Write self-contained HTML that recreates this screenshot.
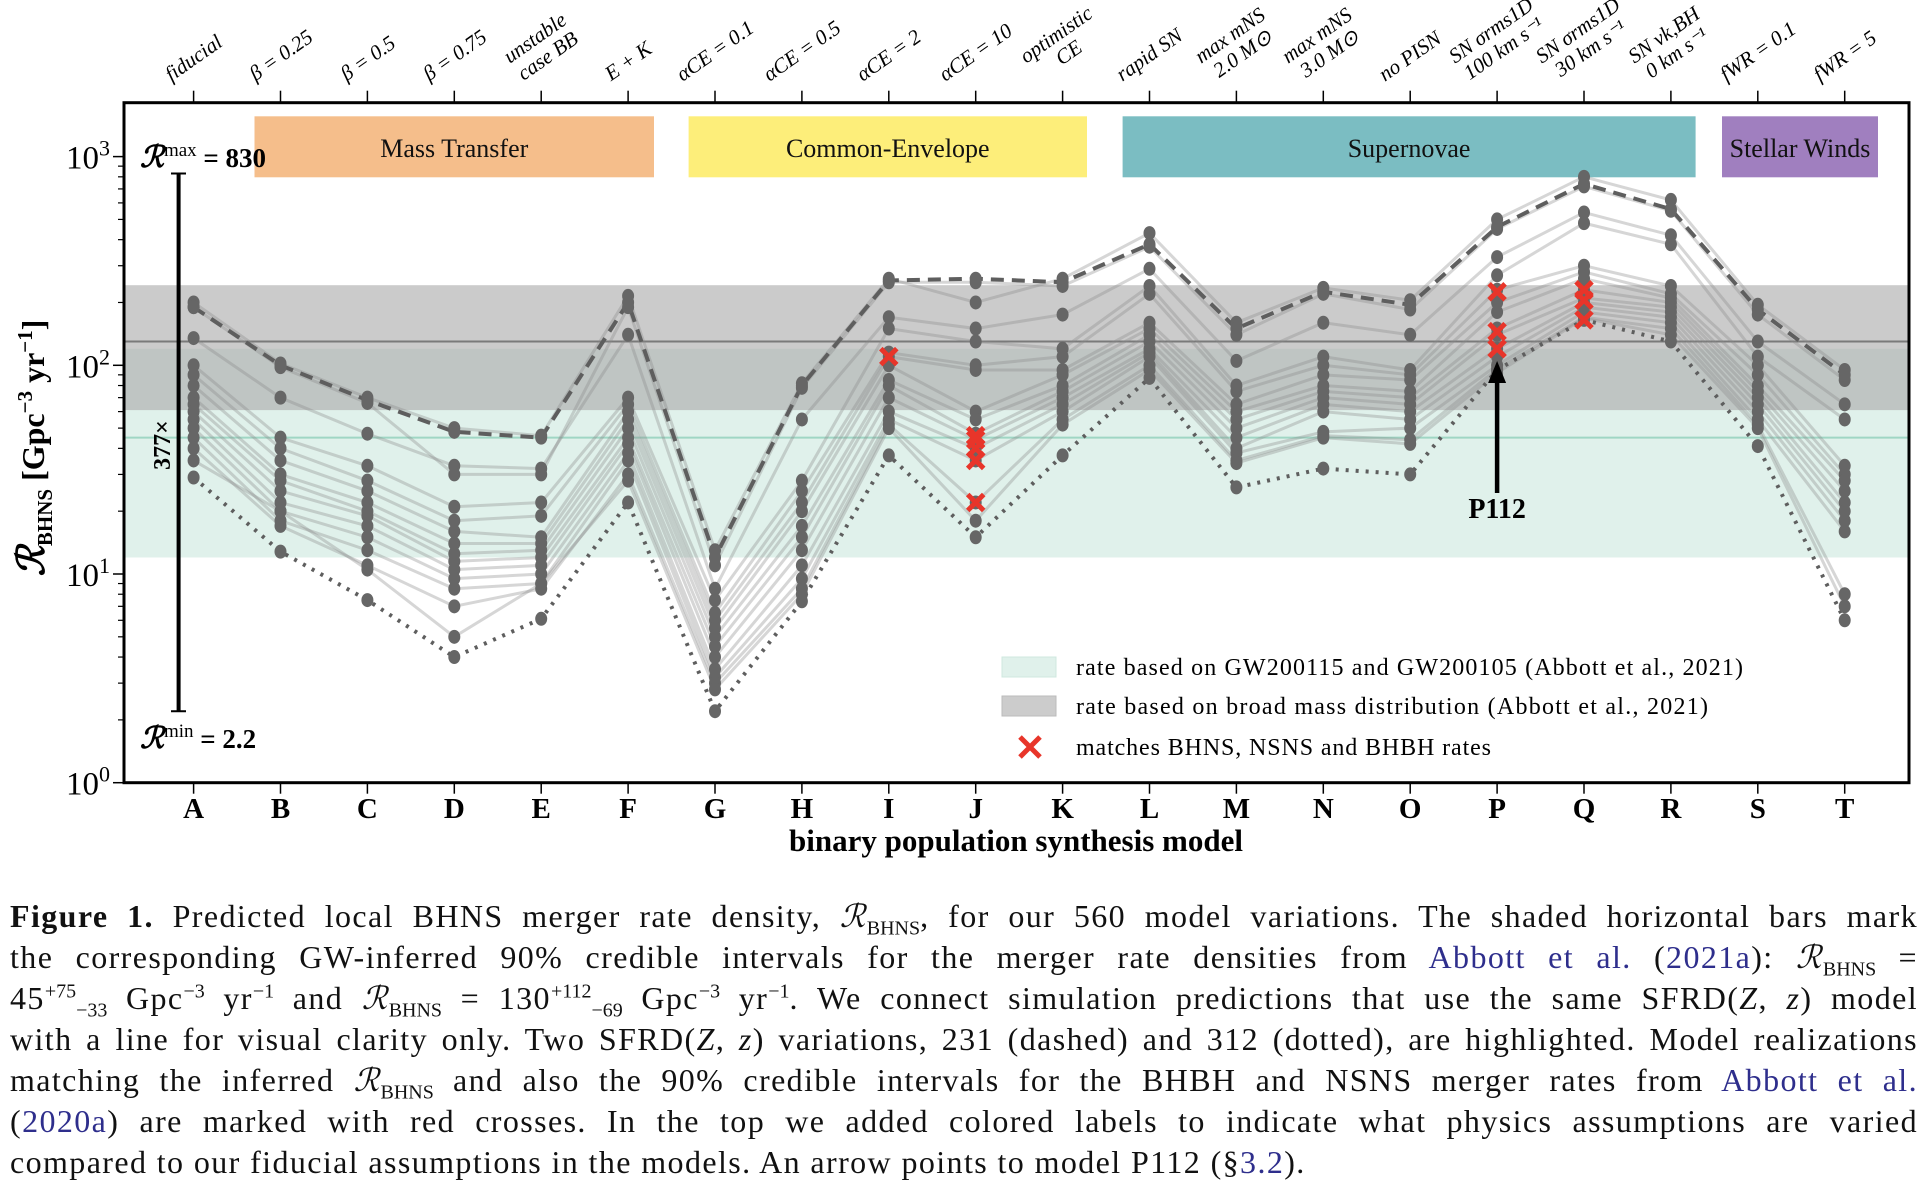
<!DOCTYPE html>
<html><head><meta charset="utf-8">
<style>
html,body{margin:0;padding:0;background:#fff;}
body{width:1928px;height:1198px;position:relative;overflow:hidden;font-family:"Liberation Serif",serif;}
#cap{position:absolute;left:10px;top:896px;width:1908px;font-size:32px;letter-spacing:1.4px;line-height:41px;color:#111;}
#cap div{text-align:justify;text-align-last:justify;white-space:nowrap;height:41px;}
#cap div.last{text-align-last:left;}
.bl{color:#2e2e8c;}
sub,sup{font-size:20px;line-height:0;letter-spacing:0;}
</style></head>
<body>
<svg id="chart" width="1928" height="890" style="position:absolute;left:0;top:0" font-family="Liberation Serif, serif"></svg>
<div id="cap">
<div><b>Figure 1.</b> Predicted local BHNS merger rate density, <i>ℛ</i><sub>BHNS</sub>, for our 560 model variations. The shaded horizontal bars mark</div>
<div>the corresponding GW-inferred 90% credible intervals for the merger rate densities from <span class="bl">Abbott et al.</span> (<span class="bl">2021a</span>): <i>ℛ</i><sub>BHNS</sub> =</div>
<div>45<sup>+75</sup><sub>−33</sub> Gpc<sup>−3</sup> yr<sup>−1</sup> and <i>ℛ</i><sub>BHNS</sub> = 130<sup>+112</sup><sub>−69</sub> Gpc<sup>−3</sup> yr<sup>−1</sup>. We connect simulation predictions that use the same SFRD(<i>Z</i>, <i>z</i>) model</div>
<div>with a line for visual clarity only. Two SFRD(<i>Z</i>, <i>z</i>) variations, 231 (dashed) and 312 (dotted), are highlighted. Model realizations</div>
<div>matching the inferred <i>ℛ</i><sub>BHNS</sub> and also the 90% credible intervals for the BHBH and NSNS merger rates from <span class="bl">Abbott et al.</span></div>
<div>(<span class="bl">2020a</span>) are marked with red crosses. In the top we added colored labels to indicate what physics assumptions are varied</div>
<div class="last">compared to our fiducial assumptions in the models. An arrow points to model P112 (§<span class="bl">3.2</span>).</div>
</div>
<script>
const categories = ["A","B","C","D","E","F","G","H","I","J","K","L","M","N","O","P","Q","R","S","T"];
const topLabels = [["fiducial"],["β = 0.25"],["β = 0.5"],["β = 0.75"],["unstable","case BB"],["E + K"],["αCE = 0.1"],["αCE = 0.5"],["αCE = 2"],["αCE = 10"],["optimistic","CE"],["rapid SN"],["max mNS","2.0 M⊙"],["max mNS","3.0 M⊙"],["no PISN"],["SN σrms1D","100 km s⁻¹"],["SN σrms1D","30 km s⁻¹"],["SN vk,BH","0 km s⁻¹"],["fWR = 0.1"],["fWR = 5"]];
const seriesDashed = [190,100,68,48,45,200,12,80,255,260,250,380,150,225,195,460,740,560,185,90];
const seriesDotted = [29,12.8,7.5,4,6.1,22,2.2,7.4,37,15,37,87,26,32,30,95,165,130,41,6];
const grayS1 = [200,102,70,50,46,215,13,82,260,200,260,430,160,235,205,500,800,620,195,95];
const grayS2 = [135,70,47,33,32,140,8.5,55,170,150,175,290,105,160,140,330,540,420,130,65];
const grayS3 = [100,45,33,21,22,70,7.5,28,150,130,120,240,80,110,95,270,480,380,110,55];
const grayS4 = [90,40,28,18,19,65,6.5,25,115,100,110,220,75,100,90,230,300,240,100,33];
const grayS5 = [80,35,25,16,15,60,6,22,110,95,95,160,65,90,85,200,280,220,90,30];
const grayS6 = [70,30,22,14,14,55,5.5,20,100,60,90,150,60,80,75,180,260,210,80,28];
const grayS7 = [65,28,20,12.5,13,50,5,17,85,55,80,140,55,75,70,150,230,200,75,25];
const grayS8 = [60,25,19,11.5,12,45,4.5,15,80,47,75,130,50,70,65,140,210,190,70,22];
const grayS9 = [55,22,17,10.5,11,42,4,13,70,44,70,120,45,65,60,120,200,180,65,20];
const grayS10 = [50,20,15,9.5,10,38,3.5,11,60,40,65,115,40,60,55,110,190,170,60,18];
const grayS11 = [45,18,13,8.5,9,35,3.2,9.5,55,35,60,110,38,48,50,100,180,160,55,16];
const grayS12 = [40,17,11,7,8.5,30,3,8.5,52,22,55,100,35,46,44,96,170,150,52,8];
const grayS13 = [35,20,10.5,5,9,28,2.8,8,50,18,52,95,34,45,42,92,168,140,50,7];
const grayS14 = [190,98,66,30,30,190,11,78,250,250,240,370,140,220,185,450,720,550,175,85];
const graySeries = [grayS1,grayS2,grayS3,grayS4,grayS5,grayS6,grayS7,grayS8,grayS9,grayS10,grayS11,grayS12,grayS13,grayS14];
const crossCats = ["I","J","J","J","J","J","P","P","P","Q","Q","Q"];
const crossVals = [110,46,44,40,35,22,225,145,120,230,205,165];
const bandTeal = [12,120]; const bandTealCenter = 45;
const bandGray = [61,242]; const bandGrayCenter = 130;
const groupNames = ["Mass Transfer","Common-Envelope","Supernovae","Stellar Winds"];
const rMax = 830, rMin = 2.2;
const yTicks = [0,1,2,3];

const NS="http://www.w3.org/2000/svg";
const svg=document.getElementById('chart');
const L=124,R=1909,T=102.7,B=782.7, x0=193.6, dx=86.9, dec=208.7;
const xs=c=>x0+categories.indexOf(c)*dx;
const xi=i=>x0+i*dx;
const ys=v=>B-dec*Math.log10(v);
function mk(tag,attrs,parent){const e=document.createElementNS(NS,tag);for(const k in attrs)e.setAttribute(k,attrs[k]);(parent||svg).appendChild(e);return e;}

let g=mk('g',{});


let r1=mk('rect',{x:L,y:ys(bandTeal[1]),width:R-L,height:ys(bandTeal[0])-ys(bandTeal[1]),fill:'#e0f1eb'},g);


let r2=mk('rect',{x:L,y:ys(bandGray[1]),width:R-L,height:ys(bandGray[0])-ys(bandGray[1]),fill:'#a8a8a8','fill-opacity':0.6},g);


mk('line',{x1:L,x2:R,y1:ys(bandTealCenter),y2:ys(bandTealCenter),stroke:'#9fd6c4','stroke-width':2},g);
mk('line',{x1:L,x2:R,y1:ys(bandGrayCenter),y2:ys(bandGrayCenter),stroke:'#7a7a7a','stroke-width':2},g);

const gcol=['#f5be8b','#fdee7a','#7bbdc2','#a07fbf'];
const gx0=[254.5,688.6,1122.6,1722], gx1=[654,1087,1695.6,1878];
groupNames.forEach((n,i)=>{
  const a=mk('g',{});
  
  
  mk('rect',{x:gx0[i],y:116.3,width:gx1[i]-gx0[i],height:61,fill:gcol[i]},a);
  const t=mk('text',{x:(gx0[i]+gx1[i])/2,y:157,'text-anchor':'middle','font-size':26,fill:'#111'},a);
  t.textContent=n;
});

const pts=s=>s.map((v,i)=>xi(i)+','+ys(v)).join(' ');
graySeries.forEach((s,k)=>{
  const p=mk('polyline',{points:pts(s),fill:'none',stroke:'#8a8a8a','stroke-opacity':0.35,'stroke-width':3});
  
  
});
const pd=mk('polyline',{points:pts(seriesDashed),fill:'none',stroke:'#5e5e5e','stroke-width':4,'stroke-dasharray':'13 8'});


const pt=mk('polyline',{points:pts(seriesDotted),fill:'none',stroke:'#5e5e5e','stroke-width':4,'stroke-dasharray':'3 7'});


[...graySeries,seriesDashed,seriesDotted].forEach(s=>s.forEach((v,i)=>{
  const c=mk('ellipse',{cx:xi(i),cy:ys(v),rx:6,ry:7,fill:'#666'});
  
  
}));
crossVals.forEach((v,i)=>{
  const cx=xs(crossCats[i]),cy=ys(v),d=8;
  const p=mk('path',{d:`M${cx-d},${cy-d}L${cx+d},${cy+d}M${cx-d},${cy+d}L${cx+d},${cy-d}`,stroke:'#e8352a','stroke-width':5});
  
  
});

const fr=mk('rect',{x:L,y:T,width:R-L,height:B-T,fill:'none',stroke:'#000','stroke-width':3});



categories.forEach((c,i)=>{
  const x=xi(i);
  mk('line',{x1:x,x2:x,y1:B,y2:B+11,stroke:'#000','stroke-width':1.5});
  mk('line',{x1:x,x2:x,y1:T,y2:T-12,stroke:'#000','stroke-width':1.5});
  const t=mk('text',{x:x,y:818,'text-anchor':'middle','font-size':29,'font-weight':'bold'});
  
  
  t.textContent=c;
});
const xt=mk('text',{x:1016,y:851,'text-anchor':'middle','font-size':31,'font-weight':'bold'});


xt.textContent='binary population synthesis model';

topLabels.forEach((lines,i)=>{
  const grp=mk('g',{});
  
  
  const t=mk('text',{'font-size':21,'font-style':'italic','text-anchor':'middle'},grp);
  lines.forEach((ln,j)=>{
    const s=mk('tspan',{x:0,dy:j?22:0},t);
    s.textContent=ln;
  });
  const bb=t.getBBox();
  const ang=35*Math.PI/180;
  const hh=(bb.width*Math.sin(ang)+bb.height*Math.cos(ang))/2;
  const cy=86-hh;
  const ox=bb.x+bb.width/2, oy=bb.y+bb.height/2;
  grp.setAttribute('transform',`translate(${xi(i)},${cy}) rotate(-35) translate(${-ox},${-oy})`);
});

yTicks.forEach(e=>{
  const y=ys(Math.pow(10,e));
  mk('line',{x1:L-11,x2:L,y1:y,y2:y,stroke:'#000','stroke-width':1.5});
  const t=mk('text',{x:110,y:y+12,'text-anchor':'end','font-size':33});
  
  
  t.innerHTML=`10<tspan dy="-13" font-size="22">${e}</tspan>`;
  if(e<3)for(let m=2;m<10;m++){const ym=ys(m*Math.pow(10,e));mk('line',{x1:L-6,x2:L,y1:ym,y2:ym,stroke:'#000','stroke-width':1.2});}
});
const yt=mk('text',{transform:'translate(44,448) rotate(-90)','text-anchor':'middle','font-size':32,'font-weight':'bold'});


yt.innerHTML='<tspan font-style="italic" font-size="38">ℛ</tspan><tspan font-size="21" dy="8">BHNS</tspan><tspan dy="-8"> [Gpc</tspan><tspan font-size="21" dy="-12">−3</tspan><tspan dy="12"> yr</tspan><tspan font-size="21" dy="-12">−1</tspan><tspan dy="12">]</tspan>';

const rb=mk('g',{});


mk('line',{x1:178.6,x2:178.6,y1:ys(rMax),y2:ys(rMin),stroke:'#000','stroke-width':4},rb);
mk('line',{x1:171,x2:186,y1:ys(rMax),y2:ys(rMax),stroke:'#000','stroke-width':2},rb);
mk('line',{x1:171,x2:186,y1:ys(rMin),y2:ys(rMin),stroke:'#000','stroke-width':2},rb);
const tm=mk('text',{x:140,y:167,'font-size':27,'font-weight':'bold'},rb);
tm.innerHTML='<tspan font-style="italic" font-size="30">ℛ</tspan><tspan dy="-11" font-size="19" font-weight="normal">max</tspan><tspan dy="11"> = '+rMax+'</tspan>';
const tn=mk('text',{x:140,y:748,'font-size':27,'font-weight':'bold'},rb);
tn.innerHTML='<tspan font-style="italic" font-size="30">ℛ</tspan><tspan dy="-11" font-size="19" font-weight="normal">min</tspan><tspan dy="11"> = '+rMin+'</tspan>';
const t377=mk('text',{transform:'translate(170,445) rotate(-90)','text-anchor':'middle','font-size':24,'font-weight':'bold'},rb);
t377.textContent=Math.round(rMax/rMin)+'×';

const ar=mk('g',{});


const ax=xs('P');
mk('line',{x1:ax,x2:ax,y1:493,y2:375,stroke:'#000','stroke-width':4.5},ar);
mk('path',{d:`M${ax-9},${383}L${ax},${361}L${ax+9},${383}Z`,fill:'#000'},ar);
const pt112=mk('text',{x:ax,y:518,'text-anchor':'middle','font-size':28,'font-weight':'bold'},ar);
pt112.textContent='P112';

const lg=mk('g',{});


const lt=['rate based on GW200115 and GW200105 (Abbott et al., 2021)','rate based on broad mass distribution (Abbott et al., 2021)','matches BHNS, NSNS and BHBH rates'];
const ly=[667,706,747];
mk('rect',{x:1002,y:ly[0]-10,width:54,height:20,fill:'#e0f1eb',stroke:'#cfe8df'},lg);
mk('rect',{x:1002,y:ly[1]-10,width:54,height:20,fill:'#cccccc',stroke:'#bbb'},lg);
mk('path',{d:`M${1020},${ly[2]-10}L${1040},${ly[2]+10}M${1020},${ly[2]+10}L${1040},${ly[2]-10}`,stroke:'#e8352a','stroke-width':5},lg);
lt.forEach((s,i)=>{
  const t=mk('text',{x:1076,y:ly[i]+8,'font-size':24,'textLength':[667,632,415][i],'lengthAdjust':'spacing'},lg);
  
  
  t.textContent=s;
});
</script>
</body></html>
